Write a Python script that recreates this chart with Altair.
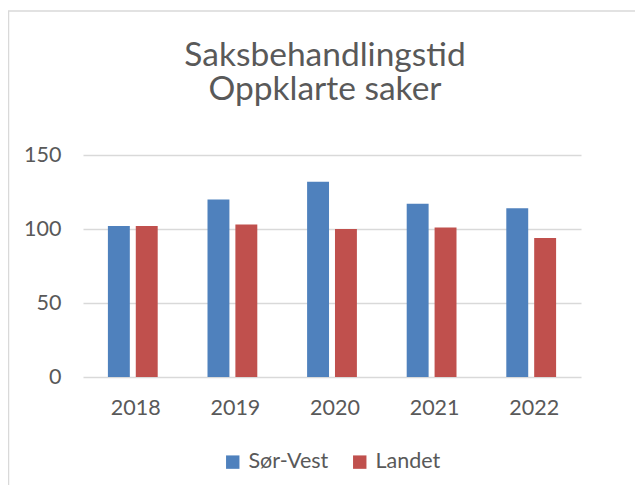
import altair as alt
import pandas as pd

years = ["2018", "2019", "2020", "2021", "2022"]
series_names = ["Sør-Vest", "Landet"]
sor_vest = [102, 120, 132, 117, 114]
landet = [102, 103, 100, 101, 94]
colors = ["#4F81BD", "#C0504D"]
y_ticks = [0, 50, 100, 150]
title_lines = ["Saksbehandlingstid", "Oppklarte saker"]

rows = []
for i, yr in enumerate(years):
    rows.append({"year": yr, "series": series_names[0], "value": sor_vest[i]})
    rows.append({"year": yr, "series": series_names[1], "value": landet[i]})
df = pd.DataFrame(rows)

TXT = "#595959"
FONT = "Lato"

bars = alt.Chart(df).mark_bar().encode(
    x=alt.X("year:N", sort=years,
            scale=alt.Scale(paddingInner=0.5, paddingOuter=0.25),
            axis=alt.Axis(title=None, labelAngle=0, labelFontSize=21.5, labelColor=TXT,
                          labelFont=FONT, labelPadding=20, labelOffset=3, ticks=False,
                          domain=False, grid=False)),
    xOffset=alt.XOffset("series:N", sort=series_names,
                        scale=alt.Scale(paddingInner=0.214, paddingOuter=0)),
    y=alt.Y("value:Q", scale=alt.Scale(domain=[0, 150], nice=False),
            axis=alt.Axis(title=None, values=y_ticks, labelFontSize=21.5, labelColor=TXT,
                          labelFont=FONT, labelPadding=22, ticks=False, domain=False,
                          grid=True, gridColor="#D9D9D9", gridWidth=1.3)),
    color=alt.Color("series:N", sort=series_names,
                    scale=alt.Scale(domain=series_names, range=colors),
                    legend=alt.Legend(title=None, orient="none", direction="horizontal",
                                      legendX=139, legendY=296, symbolType="square",
                                      symbolSize=180, symbolStrokeWidth=0, labelFontSize=21.5,
                                      labelColor=TXT, labelFont=FONT, labelOffset=5,
                                      columnPadding=20, padding=0)),
)

frame_df = pd.DataFrame({"k": [0]})
top_line = alt.Chart(frame_df).mark_rule(color="#D9D9D9", strokeWidth=1.5).encode(
    x=alt.value(-75), x2=alt.value(560), y=alt.value(-144))
left_line = alt.Chart(frame_df).mark_rule(color="#D9D9D9", strokeWidth=1.5).encode(
    x=alt.value(-74.5), y=alt.value(-144), y2=alt.value(330))

title = alt.Chart(pd.DataFrame({"t": ["\n".join(title_lines)]})).mark_text(
    font=FONT, fontSize=33.5, color=TXT, align="center", baseline="alphabetic",
    lineBreak="\n", lineHeight=34).encode(
    text="t:N", x=alt.value(242), y=alt.value(-89))

chart = alt.layer(bars, top_line, left_line, title).properties(
    width=498, height=222,
    padding={"left": 75, "top": 147, "right": 54, "bottom": 108},
    autosize=alt.AutoSizeParams(type="none"),
).configure(font=FONT).configure_view(strokeWidth=0, stroke=None)

chart.save("out.html", embed_options={"renderer": "svg", "actions": False})
